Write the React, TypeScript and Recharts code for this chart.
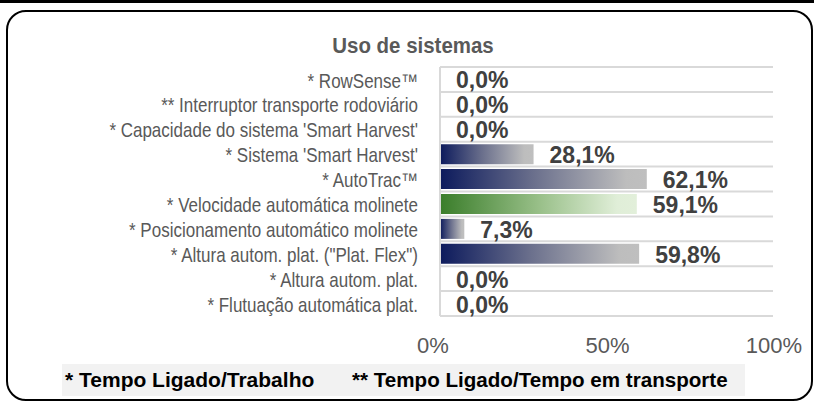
import { BarChart, Bar, XAxis, YAxis, CartesianGrid, Cell, LabelList } from 'recharts';

const categories = [
  '* RowSense™',
  '** Interruptor transporte rodoviário',
  "* Capacidade do sistema 'Smart Harvest'",
  "* Sistema 'Smart Harvest'",
  '* AutoTrac™',
  '* Velocidade automática molinete',
  '* Posicionamento automático molinete',
  '* Altura autom. plat. ("Plat. Flex")',
  '* Altura autom. plat.',
  '* Flutuação automática plat.',
];
const usage = [0, 0, 0, 0.281, 0.621, 0.591, 0.073, 0.598, 0, 0];
const highlighted = [false, false, false, false, false, true, false, false, false, false];
const xTicks = [0, 0.5, 1];

const data = categories.map((name, i) => ({ name, value: usage[i], green: highlighted[i] }));

const SANS = "'Liberation Sans', Arial, sans-serif";

const pct = (v: number) => (v * 100).toFixed(1).replace('.', ',') + '%';

const ValueLabel = (props: any) => {
  const { x, y, width, height, value } = props;
  return (
    <text x={x + width + 16} y={y + height / 2 + 1} dominantBaseline="central"
      fontFamily={SANS} fontWeight="bold" fontSize={23} fill="#404040">
      {pct(value)}
    </text>
  );
};

// the 0% label sits a bit left of its tick, like in the original
const XTick = ({ x, y, payload }: any) => (
  <text x={x + (payload.value === 0 ? -7 : 1)} y={y} dy="0.71em" textAnchor="middle"
    fontFamily={SANS} fontSize={22} fill="#595959">
    {`${payload.value * 100}%`}
  </text>
);

// no Arial Narrow here, so squeeze the regular face a bit
const YTick = ({ x, y, payload }: any) => (
  <text transform={`translate(${x},${y + 1}) scale(0.85,1)`} dy="0.355em" textAnchor="end"
    fontFamily={SANS} fontSize={20} fill="#595959">
    {payload.value}
  </text>
);

// lines sit between categories, not on them
const bandLines = ({ offset }: any) => {
  const step = offset.height / categories.length;
  return categories.map((_, i) => offset.top + i * step).concat(offset.top + offset.height);
};

export default function App() {
  return (
    <div style={{ position: 'fixed', left: 0, top: 0, width: 814, height: 401, background: '#fff', overflow: 'hidden' }}>
      <div style={{ position: 'absolute', left: 0, top: 0, width: 814, height: 3, background: '#000' }} />
      <div style={{
        position: 'absolute', left: 6, top: 10, width: 807, height: 391, boxSizing: 'border-box',
        border: '2px solid #000', borderRadius: 20,
      }} />
      <div style={{
        position: 'absolute', left: 62, top: 364, width: 683, height: 32, background: '#f2f2f2',
      }} />
      <div style={{
        position: 'absolute', left: 65, top: 366, fontFamily: SANS, fontWeight: 'bold', fontSize: 21,
        color: '#000', whiteSpace: 'nowrap', lineHeight: '28px',
      }}>* Tempo Ligado/Trabalho</div>
      <div style={{
        position: 'absolute', left: 352, top: 366, fontFamily: SANS, fontWeight: 'bold', fontSize: 20.6,
        color: '#000', whiteSpace: 'nowrap', lineHeight: '28px',
      }}>** Tempo Ligado/Tempo em transporte</div>
      <div style={{
        position: 'absolute', left: 313, top: 33, width: 200, textAlign: 'center', fontFamily: SANS,
        fontWeight: 'bold', fontSize: 22, color: '#595959', lineHeight: '26px',
        transform: 'scaleX(0.93)',
      }}>Uso de sistemas</div>
      <div style={{ position: 'absolute', left: 0, top: 0 }}>
        <BarChart width={814} height={401} data={data} layout="vertical" barCategoryGap="10%"
          margin={{ top: 67, right: 41, bottom: 45, left: 20 }}>
          <defs>
            <linearGradient id="gBlue" x1="0" y1="0" x2="1" y2="0">
              <stop offset="0" stopColor="#0c1a5c" />
              <stop offset="0.45" stopColor="#6a6f8c" />
              <stop offset="0.9" stopColor="#bdbdbd" />
              <stop offset="1" stopColor="#bfbfbf" />
            </linearGradient>
            <linearGradient id="gGreen" x1="0" y1="0" x2="1" y2="0">
              <stop offset="0" stopColor="#3a7d2a" />
              <stop offset="0.5" stopColor="#98bf88" />
              <stop offset="0.9" stopColor="#e0eed8" />
              <stop offset="1" stopColor="#e2efda" />
            </linearGradient>
          </defs>
          <CartesianGrid vertical={false} stroke="#d9d9d9" strokeWidth={2}
            horizontalCoordinatesGenerator={bandLines} />
          <XAxis type="number" domain={[0, 1]} ticks={xTicks} tick={<XTick />}
            axisLine={false} tickLine={false} tickSize={0} tickMargin={21} height={40} />
          <YAxis type="category" dataKey="name" width={420} tickSize={0} tickMargin={22} tickLine={false}
            axisLine={{ stroke: '#d9d9d9', strokeWidth: 2 }} interval={0} tick={<YTick />} />
          <Bar dataKey="value" isAnimationActive={false} minPointSize={0.01}>
            {data.map((d, i) => (
              <Cell key={i} fill={d.green ? 'url(#gGreen)' : 'url(#gBlue)'} />
            ))}
            <LabelList dataKey="value" content={<ValueLabel />} />
          </Bar>
        </BarChart>
      </div>
    </div>
  );
}
